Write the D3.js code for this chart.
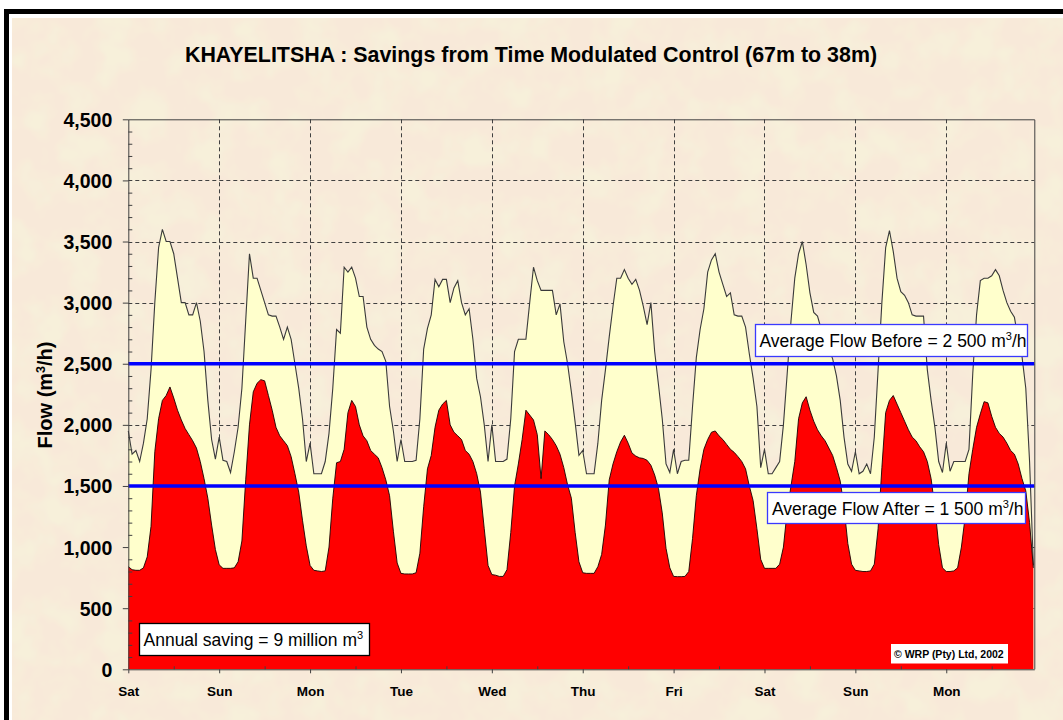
<!DOCTYPE html>
<html>
<head>
<meta charset="utf-8">
<script src="https://cdn.jsdelivr.net/npm/d3@7"></script>
<style>
  body { margin: 0; background: #fff; }
  svg { display: block; }
  text { font-family: "Liberation Sans", Arial, sans-serif; }
</style>
</head>
<body>
<svg id="chart" width="1063" height="720"></svg>
<script>
// day labels along the bottom, one per midnight
var dayLabels = ["Sat", "Sun", "Mon", "Tue", "Wed", "Thu", "Fri", "Sat", "Sun", "Mon"];
var flowTicks = [0, 500, 1000, 1500, 2000, 2500, 3000, 3500, 4000, 4500];
var avgBefore = 2500;
var avgAfter = 1500;

// hourly flow (m3/h) before the pressure control, one line per day
var flowBefore = [
  1950, 1760, 1790, 1700, 1850, 2050, 2450, 3000, 3450, 3600, 3500, 3500, 3400, 3200, 3000, 3000, 2900, 2900, 3000, 2850, 2600, 2200, 1880, 1720,
  1900, 1710, 1700, 1610, 1780, 1980, 2300, 2850, 3400, 3200, 3200, 3100, 3000, 2900, 2890, 2890, 2800, 2700, 2800, 2700, 2500, 2300, 2050, 1700,
  1850, 1600, 1600, 1600, 1700, 1930, 2300, 2780, 2750, 3290, 3250, 3290, 3200, 3050, 3050, 2800, 2700, 2650, 2620, 2600, 2520, 2150, 1950, 1700,
  1880, 1700, 1700, 1700, 1710, 2050, 2620, 2790, 2900, 3190, 3130, 3190, 3190, 3000, 3120, 3180, 3000, 2900, 2950, 2700, 2380, 2230, 2000, 1700,
  2000, 1700, 1700, 1700, 1720, 2050, 2600, 2700, 2700, 2700, 3000, 3290, 3180, 3100, 3100, 3100, 3100, 2900, 2990, 2680, 2500, 2270, 2020, 1750,
  1790, 1600, 1600, 1600, 1850, 2200, 2450, 2720, 2970, 3200, 3200, 3270, 3200, 3150, 3190, 3100, 2970, 2820, 3000, 2600, 2330, 2050, 1680, 1610,
  1800, 1600, 1700, 1710, 1710, 2150, 2550, 2780, 2950, 3250, 3350, 3400, 3250, 3150, 3050, 3080, 2900, 2890, 2890, 2800, 2580, 2380, 2150, 1650,
  1800, 1600, 1600, 1650, 1700, 2000, 2420, 2850, 3200, 3400, 3500, 3310, 3080, 2920, 2890, 2780, 2700, 2620, 2540, 2400, 2200, 1900, 1680, 1620,
  1780, 1600, 1620, 1680, 1600, 1900, 2450, 3000, 3450, 3590, 3420, 3200, 3090, 3060, 3000, 2900, 2890, 2890, 2890, 2450, 2200, 1980, 1700, 1610,
  1850, 1620, 1700, 1700, 1700, 1700, 1800, 2420, 2900, 3180, 3200, 3200, 3220, 3270, 3220, 3100, 3000, 2930, 2880, 2700, 2560, 2300, 1700, 850
];

// hourly flow after time modulated control
var flowAfter = [
  840, 815, 810, 810, 830, 920, 1170, 1780, 2050, 2200, 2240, 2310, 2220, 2120, 2040, 1970, 1920, 1870, 1810, 1700, 1560, 1400, 1180, 980,
  855, 826, 826, 826, 830, 880, 1050, 1550, 2000, 2270, 2340, 2370, 2360, 2240, 2120, 1980, 1910, 1870, 1830, 1740, 1600, 1450, 1220, 1010,
  850, 810, 805, 800, 805, 1000, 1400, 1690, 1700, 1800, 2100, 2200, 2150, 2000, 1910, 1870, 1790, 1760, 1730, 1650, 1550, 1420, 1130, 870,
  785, 780, 780, 780, 790, 950, 1330, 1640, 1750, 1980, 2120, 2170, 2200, 2000, 1940, 1910, 1880, 1790, 1760, 1700, 1600, 1450, 1150, 850,
  775, 770, 760, 760, 815, 1120, 1500, 1680, 1880, 2120, 2080, 2040, 1920, 1560, 1950, 1920, 1880, 1830, 1760, 1650, 1510, 1400, 1120, 880,
  790, 785, 785, 785, 840, 940, 1180, 1550, 1680, 1780, 1860, 1915, 1850, 1770, 1745, 1730, 1725, 1710, 1670, 1590, 1480, 1280, 990, 830,
  760, 758, 758, 760, 800, 1070, 1420, 1640, 1800, 1880, 1940, 1950, 1910, 1880, 1840, 1800, 1775, 1740, 1700, 1640, 1500, 1380, 1150, 900,
  826, 826, 826, 826, 860, 1000, 1300, 1500, 1700, 2050, 2180, 2230, 2120, 2030, 1960, 1910, 1870, 1810, 1750, 1650, 1540, 1330, 1030, 860,
  810, 805, 800, 800, 805, 860, 1150, 1650, 2100, 2200, 2240, 2170, 2100, 2030, 1960, 1900, 1870, 1820, 1780, 1700, 1560, 1320, 1020, 830,
  800, 800, 805, 830, 1000, 1250, 1600, 1800, 1980, 2090, 2190, 2180, 2070, 1980, 1930, 1900, 1850, 1790, 1760, 1680, 1560, 1460, 1200, 830
];

var svg = d3.select("#chart");
// plot box edges (top is a reserved name on window, so prefix them)
var plotL = 128.3, plotR = 1034.3, plotT = 119.3, plotB = 669.3;

var x = d3.scaleLinear().domain([0, 239.25]).range([plotL, plotR]);
var y = d3.scaleLinear().domain([0, 4500]).range([plotB, plotT]);

// paper texture background
var defs = svg.append("defs");
var flt = defs.append("filter").attr("id", "paper")
  .attr("x", 0).attr("y", 0).attr("width", "100%").attr("height", "100%");
flt.append("feTurbulence").attr("type", "fractalNoise")
  .attr("baseFrequency", "0.03").attr("numOctaves", 3).attr("seed", 4);
flt.append("feColorMatrix").attr("type", "matrix")
  .attr("values", "0 0 0 0 0.93  0 0 0 0 0.87  0 0 0 0 0.70  3.0 0 0 0 -1.2");

svg.append("rect").attr("width", 1063).attr("height", 720).attr("fill", "#fff");
svg.append("rect").attr("x", 12).attr("y", 18).attr("width", 1051).attr("height", 702)
  .attr("fill", "#f8e9d9");
svg.append("rect").attr("x", 12).attr("y", 18).attr("width", 1051).attr("height", 702)
  .attr("filter", "url(#paper)");
// black frame, only left and top are inside the picture
svg.append("rect").attr("x", 6.5).attr("y", 11.5).attr("width", 1100).attr("height", 760)
  .attr("fill", "none").attr("stroke", "#000").attr("stroke-width", 5);

// dashed grid (behind the areas)
var grid = svg.append("g").attr("stroke", "#404040").attr("stroke-width", 1)
  .attr("stroke-dasharray", "4,3");
grid.selectAll(".hg").data(flowTicks.slice(1, -1)).enter().append("line")
  .attr("x1", plotL).attr("x2", plotR)
  .attr("y1", function(d) { return Math.round(y(d)) + 0.5; })
  .attr("y2", function(d) { return Math.round(y(d)) + 0.5; });
grid.selectAll(".vg").data(dayLabels.slice(1)).enter().append("line")
  .attr("x1", function(d, i) { return Math.round(x((i + 1) * 24)) + 0.5; })
  .attr("x2", function(d, i) { return Math.round(x((i + 1) * 24)) + 0.5; })
  .attr("y1", plotT).attr("y2", plotB);

var areaOf = function(vals) {
  return d3.area().x(function(d, i) { return x(i); }).y0(y(0)).y1(function(d) { return y(d); })(vals);
};
var lineOf = function(vals) {
  return d3.line().x(function(d, i) { return x(i); }).y(function(d) { return y(d); })(vals);
};

svg.append("path").attr("d", areaOf(flowBefore)).attr("fill", "#ffffcc");
svg.append("path").attr("d", lineOf(flowBefore)).attr("fill", "none")
  .attr("stroke", "#3a3a3a").attr("stroke-width", 1.1);
svg.append("path").attr("d", areaOf(flowAfter)).attr("fill", "#ff0000");
svg.append("path").attr("d", lineOf(flowAfter)).attr("fill", "none")
  .attr("stroke", "#1a0000").attr("stroke-width", 0.9);

// average lines
svg.selectAll(".avg").data([avgBefore, avgAfter]).enter().append("line")
  .attr("x1", plotL).attr("x2", plotR)
  .attr("y1", function(d) { return y(d); }).attr("y2", function(d) { return y(d); })
  .attr("stroke", "#0000ff").attr("stroke-width", 3.5);

// plot frame top and right
svg.append("path").attr("d", "M" + plotL + "," + (plotT + 0.5) + "H" + (plotR + 0.5) + "V" + plotB)
  .attr("fill", "none").attr("stroke", "#404040").attr("stroke-width", 1);

// axes
var yAxis = svg.append("g").attr("transform", "translate(" + plotL + ",0)")
  .call(d3.axisLeft(y).tickValues(flowTicks).tickSize(5.5).tickSizeOuter(0)
    .tickFormat(d3.format(",")));
var yMinor = svg.append("g").attr("transform", "translate(" + plotL + ",0)")
  .call(d3.axisRight(y).tickValues(d3.range(100, 4500, 100).filter(function(v) { return v % 500; }))
    .tickSize(4).tickFormat(""));
var xAxis = svg.append("g").attr("transform", "translate(0," + plotB + ")")
  .call(d3.axisBottom(x).tickValues(dayLabels.map(function(d, i) { return i * 24; }))
    .tickSize(4).tickSizeOuter(0)
    .tickFormat(function(d, i) { return dayLabels[i]; }));
var xMinor = svg.append("g").attr("transform", "translate(0," + plotB + ")")
  .call(d3.axisTop(x).tickValues(dayLabels.map(function(d, i) { return i * 24 + 12; }))
    .tickSize(3).tickFormat(""));

yMinor.select(".domain").remove();
xMinor.select(".domain").remove();
svg.selectAll(".domain").attr("stroke", "#404040");
svg.selectAll(".tick line").attr("stroke", "#404040");

yAxis.selectAll("text").attr("x", -16).attr("dy", "0.36em")
  .style("font-family", "'Liberation Sans', Arial, sans-serif")
  .style("font-size", "19.5px").style("font-weight", "bold").attr("fill", "#000");
xAxis.selectAll("text").attr("y", 17).attr("dy", "0.71em")
  .style("font-family", "'Liberation Sans', Arial, sans-serif")
  .style("font-size", "13.5px").style("font-weight", "bold").attr("fill", "#000");

// title
svg.append("text").attr("x", 531).attr("y", 62).attr("text-anchor", "middle")
  .style("font-size", "21.4px").style("font-weight", "bold")
  .text("KHAYELITSHA : Savings from Time Modulated Control (67m to 38m)");

// y axis title
var yt = svg.append("text").attr("transform", "translate(52,395) rotate(-90)")
  .attr("text-anchor", "middle").style("font-size", "20px").style("font-weight", "bold");
yt.append("tspan").text("Flow (m");
yt.append("tspan").attr("dy", -7).style("font-size", "12.5px").text("3");
yt.append("tspan").attr("dy", 7).text("/h)");

// annotation boxes
function note(bx, by, bw, bh, stroke, tx, ty, pre, post) {
  svg.append("rect").attr("x", bx + 0.5).attr("y", by + 0.5).attr("width", bw).attr("height", bh)
    .attr("fill", "#fff").attr("stroke", stroke).attr("stroke-width", 1.3);
  var t = svg.append("text").attr("x", tx).attr("y", ty).style("font-size", "17.5px");
  t.append("tspan").text(pre);
  t.append("tspan").attr("dy", -7).style("font-size", "11px").text("3");
  if (post) t.append("tspan").attr("dy", 7).text(post);
}
note(755, 324, 272, 32, "#3a3aff", 759.5, 347, "Average Flow Before = 2 500 m", "/h");
note(767, 492, 258, 31, "#3a3aff", 772, 515, "Average Flow After = 1 500 m", "/h");
note(139, 623, 230, 32, "#000", 143.5, 646, "Annual saving = 9 million m", "");

svg.append("rect").attr("x", 891).attr("y", 644).attr("width", 117).attr("height", 19.5).attr("fill", "#fff");
svg.append("text").attr("x", 894).attr("y", 658).style("font-size", "10.5px").style("font-weight", "bold")
  .text("\u00a9 WRP (Pty) Ltd, 2002");
</script>
</body>
</html>
